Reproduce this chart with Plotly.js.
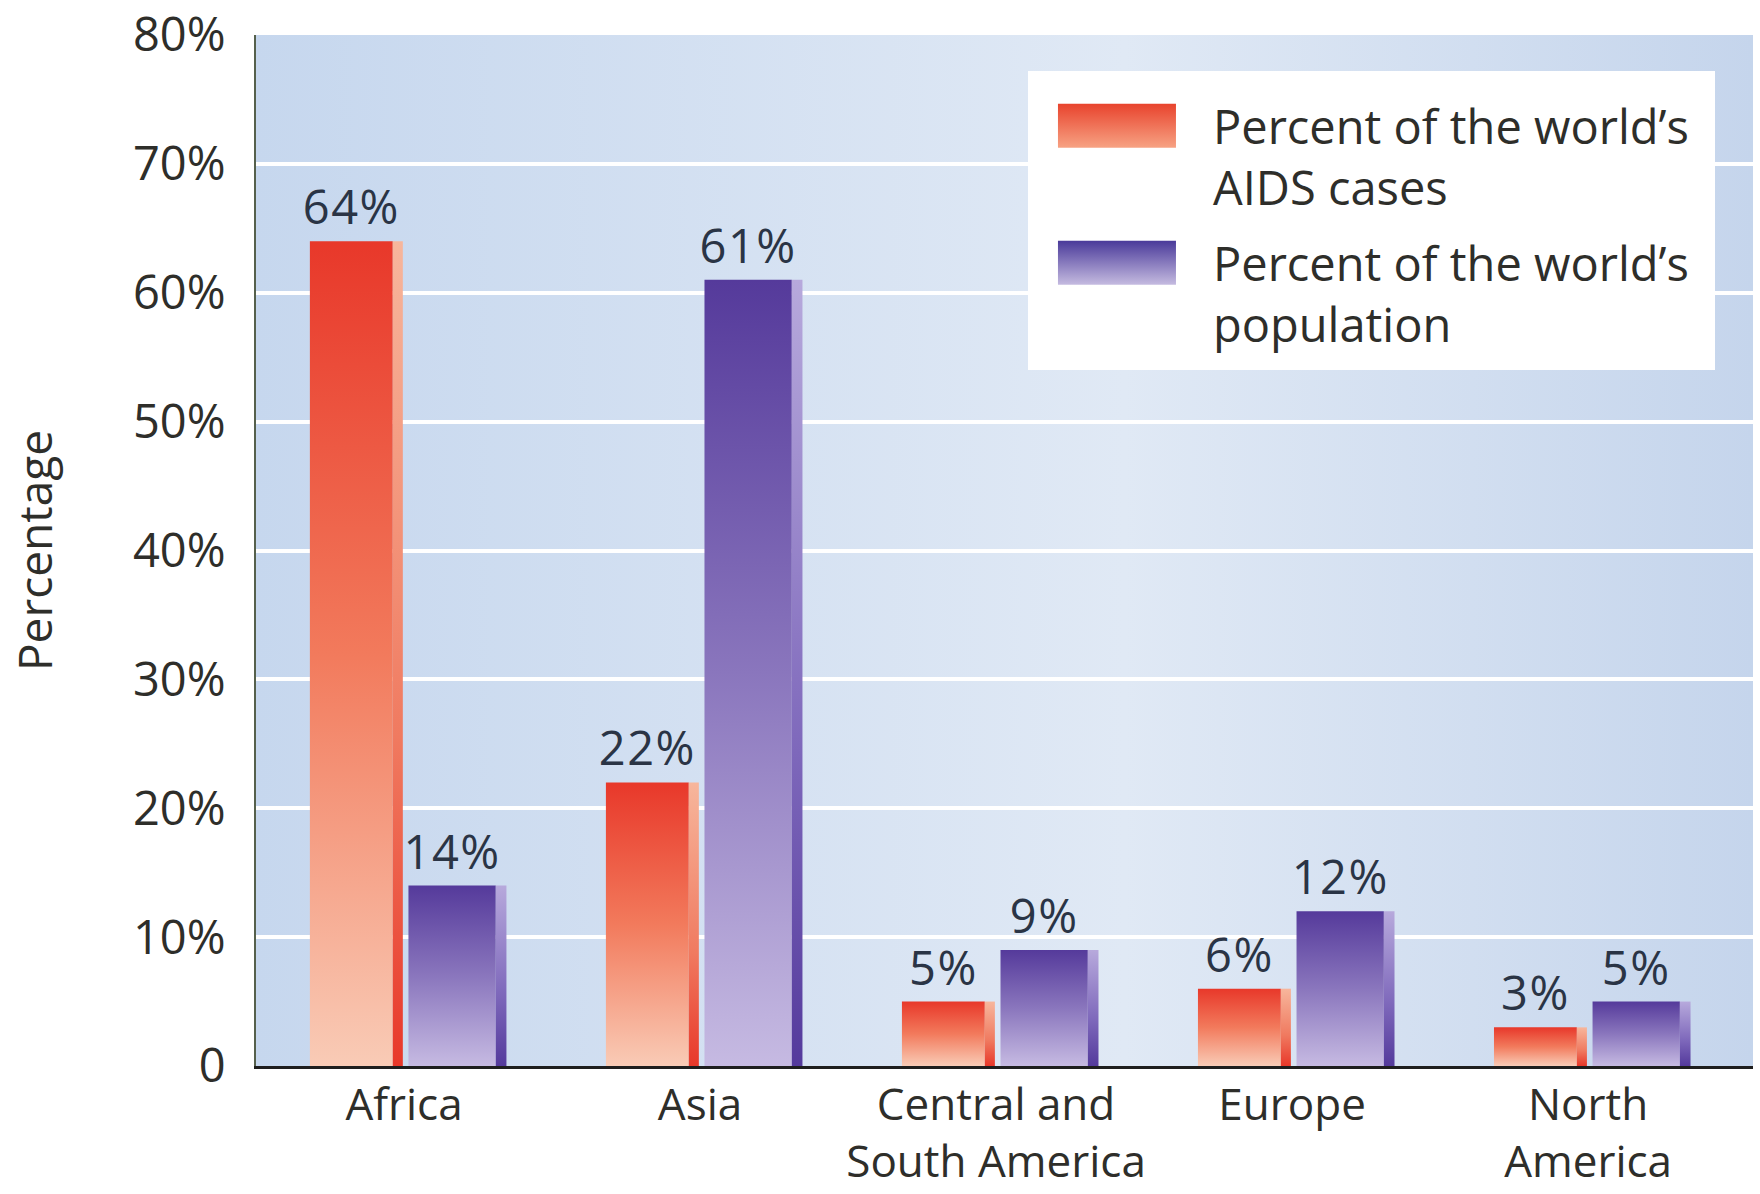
<!DOCTYPE html>
<html><head><meta charset="utf-8">
<script src="https://cdn.plot.ly/plotly-3.0.1.min.js"></script>
<style>html,body{margin:0;padding:0;background:#fff;} #chart{width:1760px;height:1194px;}</style>
</head><body><div id="chart"></div>
<script>
const regions = ['Africa', 'Asia', 'Central and<br>South America', 'Europe', 'North<br>America'];
const aidsCases = [64, 22, 5, 6, 3];
const population = [14, 61, 9, 12, 5];
const aidsLabels = ['64%', '22%', '5%', '6%', '3%'];
const popLabels = ['14%', '61%', '9%', '12%', '5%'];
const yTickVals = [0, 10, 20, 30, 40, 50, 60, 70, 80];
const yTickText = ['0', '10%', '20%', '30%', '40%', '50%', '60%', '70%', '80%'];
const seriesNames = ['Percent of the world’s<br>AIDS cases', 'Percent of the world’s<br>population'];
const yTitle = 'Percentage';

const FONT = 'Open Sans, Noto Sans, sans-serif';
const TXT = '#2e2e2a';
const gd = document.getElementById('chart');

const data = [
  {type:'bar', x:regions, y:aidsCases, name:seriesNames[0], legendgroup:'a', offset:-0.318, width:0.28,
   marker:{color:'#ec4a32', line:{width:0}}, text:aidsLabels, textposition:'outside',
   constraintext:'none', cliponaxis:false, textfont:{family:FONT, size:47, color:'#2a3445'}, hoverinfo:'skip'},
  {type:'bar', x:regions, y:aidsCases, name:'aids side', showlegend:false, offset:-0.038, width:0.034,
   marker:{color:'#f4a184', line:{width:0}}, hoverinfo:'skip'},
  {type:'bar', x:regions, y:population, name:seriesNames[1], legendgroup:'b', offset:0.015, width:0.295,
   marker:{color:'#5b43a0', line:{width:0}}, text:popLabels, textposition:'outside',
   constraintext:'none', cliponaxis:false, textfont:{family:FONT, size:47, color:'#2a3445'}, hoverinfo:'skip'},
  {type:'bar', x:regions, y:population, name:'pop side', showlegend:false, offset:0.31, width:0.036,
   marker:{color:'#9c8cd0', line:{width:0}}, hoverinfo:'skip'}
];

const layout = {
  width:1760, height:1194,
  margin:{l:256, r:7, t:35, b:128},
  paper_bgcolor:'#ffffff', plot_bgcolor:'#cfddf0',
  barmode:'overlay',
  font:{family:FONT, size:44, color:TXT},
  showlegend:true,
  legend:{x:0.511, y:0.948, xanchor:'left', yanchor:'top', bgcolor:'#ffffff', borderwidth:0,
          font:{family:FONT, size:47, color:TXT}, itemwidth:182, valign:'top',
          traceorder:'grouped', tracegroupgap:12},
  xaxis:{type:'category', range:[-0.5, 4.557], showgrid:false, zeroline:false,
         showline:true, linecolor:'#1e1e1e', linewidth:3, ticks:'', ticklabelstandoff:-2,
         tickfont:{family:FONT, size:44, color:TXT}, fixedrange:true},
  yaxis:{range:[0, 80], tickvals:yTickVals, ticktext:yTickText, showgrid:true, gridcolor:'#ffffff', gridwidth:4,
         zeroline:false, showline:true, linecolor:'#55604c', linewidth:2, ticks:'', ticklabelstandoff:19,
         tickfont:{family:FONT, size:47, color:TXT},
         title:{text:yTitle, font:{family:FONT, size:46, color:TXT}, standoff:66}, fixedrange:true}
};

function applyGradients(){
  const ns = 'http://www.w3.org/2000/svg';
  const svg = gd.querySelector('svg.main-svg');
  let defs = svg.querySelector('defs');
  if (!defs) { defs = document.createElementNS(ns, 'defs'); svg.insertBefore(defs, svg.firstChild); }
  function grad(id, stops, horizontal){
    const g = document.createElementNS(ns, 'linearGradient');
    g.setAttribute('id', id);
    g.setAttribute('x1', '0'); g.setAttribute('y1', '0');
    g.setAttribute('x2', horizontal ? '1' : '0'); g.setAttribute('y2', horizontal ? '0' : '1');
    stops.forEach(function(s){
      const st = document.createElementNS(ns, 'stop');
      st.setAttribute('offset', s[0]); st.setAttribute('stop-color', s[1]);
      g.appendChild(st);
    });
    defs.appendChild(g);
  }
  grad('gRedMain', [['0','#e8382a'],['0.5','#f27a5c'],['1','#f9cbb6']]);
  grad('gRedSide', [['0','#f7b69c'],['0.6','#f07a60'],['1','#e8382a']]);
  grad('gPurMain', [['0','#553a9b'],['0.5','#8a76bd'],['1','#c6bae2']]);
  grad('gPurSide', [['0','#b7a9dc'],['0.6','#7e68bb'],['1','#543a9c']]);
  grad('gRedLeg', [['0','#e8432d'],['1','#f7a283']]);
  grad('gPurLeg', [['0','#4a3a9a'],['1','#c5bbe0']]);
  grad('gBg', [['0','#c6d7ee'],['0.58','#e0e9f5'],['1','#c5d5ec']], true);

  const ids = ['gRedMain','gRedSide','gPurMain','gPurSide'];
  gd.querySelectorAll('.barlayer .trace').forEach(function(t, i){
    t.querySelectorAll('.point path').forEach(function(p){ p.style.fill = 'url(#' + ids[i] + ')'; });
    t.querySelectorAll('text').forEach(function(tx){ tx.style.letterSpacing = '1.5px'; });
  });
  const legIds = ['gRedLeg','gPurLeg'];
  gd.querySelectorAll('.legend .traces').forEach(function(t, i){
    t.querySelectorAll('.legendpoints path').forEach(function(p){
      p.setAttribute('d', 'M-59,-22H59V22H-59Z');
      p.style.fill = 'url(#' + legIds[i] + ')';
      p.style.stroke = 'none';
    });
  });
  // enlarge the legend's white box to match the reference
  const leg = gd.querySelector('g.legend');
  if (leg) {
    const m = leg.transform.baseVal.consolidate();
    const e = m ? m.matrix.e : 0, f = m ? m.matrix.f : 0;
    const r = leg.querySelector('rect.bg');
    if (r) {
      r.setAttribute('x', 1028 - e); r.setAttribute('y', 71 - f);
      r.setAttribute('width', 687); r.setAttribute('height', 299);
    }
  }
  const bg = gd.querySelector('.bglayer rect.bg');
  if (bg) bg.style.fill = 'url(#gBg)';
}

Plotly.newPlot(gd, data, layout, {staticPlot:true, displayModeBar:false}).then(applyGradients);
</script>
</body></html>
